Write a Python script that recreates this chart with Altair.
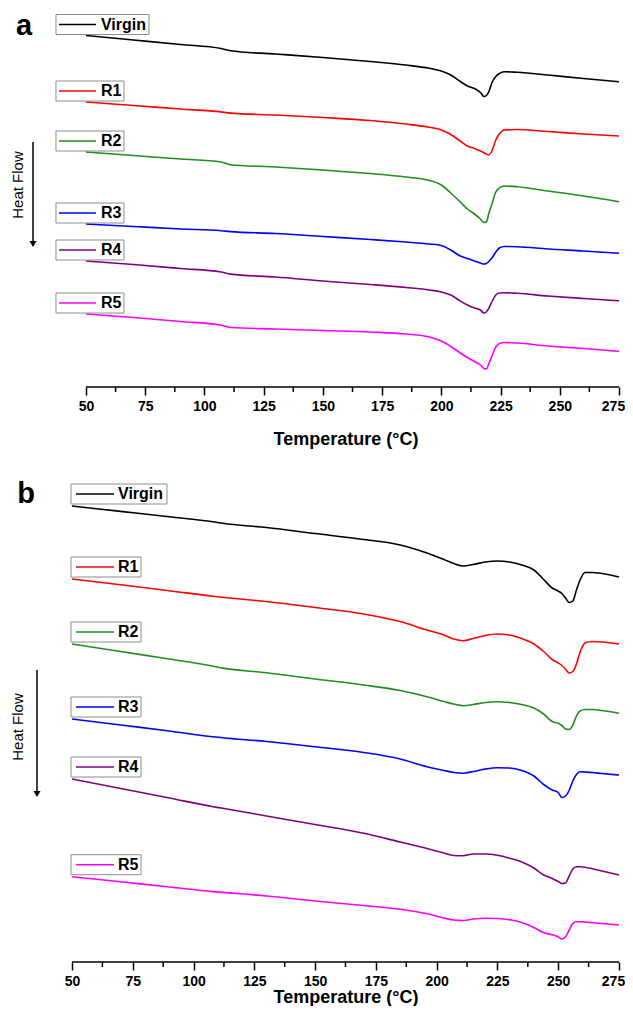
import altair as alt
import pandas as pd

FONT = "Liberation Sans"
SERIES = ["Virgin", "R1", "R2", "R3", "R4", "R5"]
COLORS = ["#000000", "#ff0000", "#228b22", "#0000ff", "#800080", "#ff00ff"]

MAJOR_TICKS = [50, 75, 100, 125, 150, 175, 200, 225, 250, 275]
MINOR_TICKS = [62.5, 87.5, 112.5, 137.5, 162.5, 187.5, 212.5, 237.5, 262.5]

# ---------------- panel a (values: heat flow, endo down, arbitrary units) -------------
TEMP_A = [50, 70, 90, 107, 111, 130, 150, 170, 185, 195, 200, 204, 208, 211, 214,
          216.5, 218, 219, 220, 221.5, 223, 224.5, 226.5, 232, 245, 260, 275]
A_VIRGIN = [35.5, 40, 44.5, 48.5, 50.8, 54, 57.5, 61.5, 65, 68.3, 71, 75, 81.5, 86, 88.5,
            92.5, 96.5, 95.5, 92, 82, 76.5, 73.5, 71.7, 72.3, 75, 78.5, 81.7]
A_R1 = [102, 105.5, 109, 111.9, 113.1, 115, 117.5, 120.5, 124, 127.3, 130, 134.5, 141, 146, 148.5,
        151, 152.7, 154, 155, 150, 140, 134, 130, 129.5, 131.5, 134, 136]
A_R2 = [152, 155.5, 159, 162, 164.7, 167, 170, 173.5, 177, 180.5, 185, 193, 202, 209, 214,
        219, 222.5, 222, 214, 203, 192, 188, 186, 186.7, 191, 196, 201.7]
A_R3 = [224, 226.5, 229, 230.7, 231.6, 233.5, 236.5, 239.5, 242, 244, 245.5, 250, 256, 258.5, 261,
        263, 264, 263.5, 261.5, 257.5, 252, 248, 246.5, 246.7, 249, 251, 253.3]
A_R4 = [261, 264.5, 268.5, 272, 274.1, 277, 281, 284.5, 287.5, 290, 292, 295, 301, 305, 308,
        310, 313, 312, 308.5, 301, 295, 293, 292.7, 293.3, 296, 298.5, 300.7]
A_R5 = [314, 317.5, 321.5, 325.3, 327.5, 329, 330.5, 332, 334, 337, 341, 346.5, 353, 357.5, 361.5,
        365, 368.5, 369, 364, 355, 347, 343.5, 342.5, 343, 346, 348.5, 351.3]

# ---------------- panel b ----------------
TEMP_B = [50, 70, 90, 108, 112, 130, 150, 170, 185, 196, 203, 207, 211, 215, 220, 225, 230,
          235, 240, 244, 247.5, 250, 251.5, 253, 254.5, 256, 257.5, 259, 261, 264, 268, 275]
B_VIRGIN = [506, 511.4, 516.8, 521.8, 523.3, 527.5, 533.5, 539.5, 545, 553, 559.5, 563.5, 566, 564.5,
            562, 561, 562, 565, 570, 579.5, 588, 591, 593.5, 598, 602.5, 601, 590, 580, 572.5,
            572.5, 573.5, 577]
B_R1 = [579, 584.8, 590.7, 596.2, 597.3, 601.5, 607.5, 614, 621.5, 630, 635, 639, 640.7, 638.5,
        635.5, 634, 635, 638.5, 644, 651.5, 659.5, 663, 665.5, 669, 673, 671.5, 664, 652, 643,
        641.5, 642, 644]
B_R2 = [644, 651.5, 659, 666.2, 668.1, 672.7, 679, 685, 690.5, 696.7, 701.5, 704, 705.7, 704.5,
        702.5, 701.7, 702.5, 704.5, 708, 714, 721.5, 723.3, 725.5, 729, 729.5, 725, 716, 711,
        709.5, 709.5, 710.5, 713.3]
B_R3 = [719, 725, 731, 736.7, 737.7, 741.5, 746.8, 752.5, 759, 766.7, 770.5, 772.5, 773.2, 771.5,
        769, 767.7, 768, 770.5, 776, 784.5, 790, 792.5, 797.5, 796, 790.5, 781, 774.5, 771.7,
        772, 772.5, 773.5, 775]
B_R4 = [779, 788.5, 798, 806.7, 808.3, 816, 824.5, 833.3, 842, 848.5, 853, 855.5, 855.7, 854,
        854, 855.3, 858.2, 862, 868, 875, 878.5, 881.5, 883.5, 883, 876, 869, 866.7, 866.8,
        867.2, 868.8, 871, 875]
B_R5 = [876.7, 881.8, 887, 891.6, 892.4, 896, 901, 905.5, 909.3, 913.8, 918, 920, 920.5, 919,
        918.3, 918.5, 919.8, 922.5, 927.5, 932.7, 934.7, 936.8, 939, 937, 930, 923.3, 921.7,
        921.7, 922, 922.7, 923.5, 925]

WIDTH = 547


def panel(letter, temps, values, xdom, ydom, height, box, annot, title_pad):
    rows = []
    for name, vals in zip(SERIES, values):
        for t, v in zip(temps, vals):
            rows.append({"series": name, "T": t, "hf": v})
    df = pd.DataFrame(rows)
    leg = pd.DataFrame({"series": SERIES, "x0": [temps[0]] * len(SERIES),
                        "y0": [v[0] for v in values]})

    xs = alt.Scale(domain=xdom, nice=False, zero=False)
    ys = alt.Scale(domain=ydom, nice=False, zero=False)
    color = alt.Color("series:N", scale=alt.Scale(domain=SERIES, range=COLORS), legend=None)

    xaxis = alt.Axis(values=MAJOR_TICKS, domain=False, grid=False, tickSize=8, tickWidth=1.5,
                     tickColor="black", labelFont=FONT, labelFontSize=14, labelFontWeight="bold",
                     labelColor="black", labelPadding=4, labelFlush=False,
                     labelOffset={"condition": {"test": "datum.value === 275", "value": -6},
                                  "value": 0},
                     title="Temperature (°C)", titleFont=FONT, titleFontSize=18,
                     titleFontWeight="bold", titleColor="black", titlePadding=title_pad)

    def X(field):
        return alt.X(field, scale=xs, axis=xaxis)

    def Y(field):
        return alt.Y(field, scale=ys, axis=None)

    lines = alt.Chart(df).mark_line(interpolate="monotone", strokeWidth=1.6).encode(
        x=X("T:Q"), y=Y("hf:Q"), color=color)

    dom = alt.Chart(pd.DataFrame({"T": [MAJOR_TICKS[0]], "T2": [MAJOR_TICKS[-1]]})).mark_rule(
        color="black", strokeWidth=1.5).encode(x=X("T:Q"), x2="T2:Q", y=alt.value(height))

    minor = alt.Chart(pd.DataFrame({"T": MINOR_TICKS})).mark_rule(
        color="black", strokeWidth=1.5).encode(
        x=X("T:Q"), y=alt.value(height), y2=alt.value(height + 5))

    def boxes(flt, x2off):
        return alt.Chart(leg).transform_filter(flt).mark_rect(
            fill="white", stroke="#8c8c8c", strokeWidth=1,
            xOffset=box["x0"], x2Offset=x2off, yOffset=box["y0"], y2Offset=box["y1"]).encode(
            x=X("x0:Q"), x2="x0:Q", y=Y("y0:Q"), y2="y0:Q")

    box_v = boxes(alt.datum.series == "Virgin", box["wv"])
    box_o = boxes(alt.datum.series != "Virgin", box["wo"])

    sample = alt.Chart(leg).mark_rule(strokeWidth=1.6, xOffset=box["l0"], x2Offset=box["l1"],
                                      yOffset=box["ym"]).encode(
        x=X("x0:Q"), x2="x0:Q", y=Y("y0:Q"), color=color)

    label = alt.Chart(leg).mark_text(align="left", baseline="middle", dx=box["tx"], dy=box["ym"],
                                     font=FONT, fontSize=16, fontWeight="bold",
                                     color="black").encode(
        x=X("x0:Q"), y=Y("y0:Q"), text="series:N")

    one = pd.DataFrame({"t": [letter], "h": ["Heat Flow"]})
    letter_txt = alt.Chart(one).mark_text(align="center", baseline="alphabetic", font=FONT,
                                          fontSize=29, fontWeight="bold", color="black").encode(
        x=alt.value(annot["lx"]), y=alt.value(annot["ly"]), text="t:N")
    hf_txt = alt.Chart(one).mark_text(align="center", baseline="middle", angle=270, font=FONT,
                                      fontSize=15, color="black").encode(
        x=alt.value(annot["hx"]), y=alt.value(annot["hy"]), text="h:N")
    arrow = alt.Chart(one).mark_rule(color="black", strokeWidth=1.5).encode(
        x=alt.value(annot["ax"]), y=alt.value(annot["ay0"]), y2=alt.value(annot["ay1"] - 6))
    head = alt.Chart(one).mark_point(shape="triangle-down", filled=True, color="black",
                                     opacity=1, size=50).encode(
        x=alt.value(annot["ax"]), y=alt.value(annot["ay1"] - 4))

    return alt.layer(lines, box_v, box_o, sample, label, dom, minor,
                     letter_txt, hf_txt, arrow, head).properties(width=WIDTH, height=height)


pa = panel("a", TEMP_A, [A_VIRGIN, A_R1, A_R2, A_R3, A_R4, A_R5],
           [44.1, 275], [387, 10], 377,
           dict(x0=-30, wv=63, wo=38, y0=-21, y1=-1, l0=-27, l1=10, ym=-11, tx=15),
           dict(lx=-48, ly=25, hx=-54, hy=175, ax=-39, ay0=132, ay1=238), 17)

pb = panel("b", TEMP_B, [B_VIRGIN, B_R1, B_R2, B_R3, B_R4, B_R5],
           [50, 275], [962, 478], 484,
           dict(x0=-1, wv=95, wo=69, y0=-22, y1=-2, l0=4, l1=42, ym=-12, tx=46),
           dict(lx=-46, ly=25, hx=-54, hy=249, ax=-35, ay0=192, ay1=320), 0)

chart = alt.vconcat(pa, pb, spacing=91, bounds="flush").properties(
    padding={"left": 3, "top": 2, "right": 0, "bottom": 0}
).configure_view(stroke=None)

chart.save("out.html", embed_options={"renderer": "svg", "actions": False})
